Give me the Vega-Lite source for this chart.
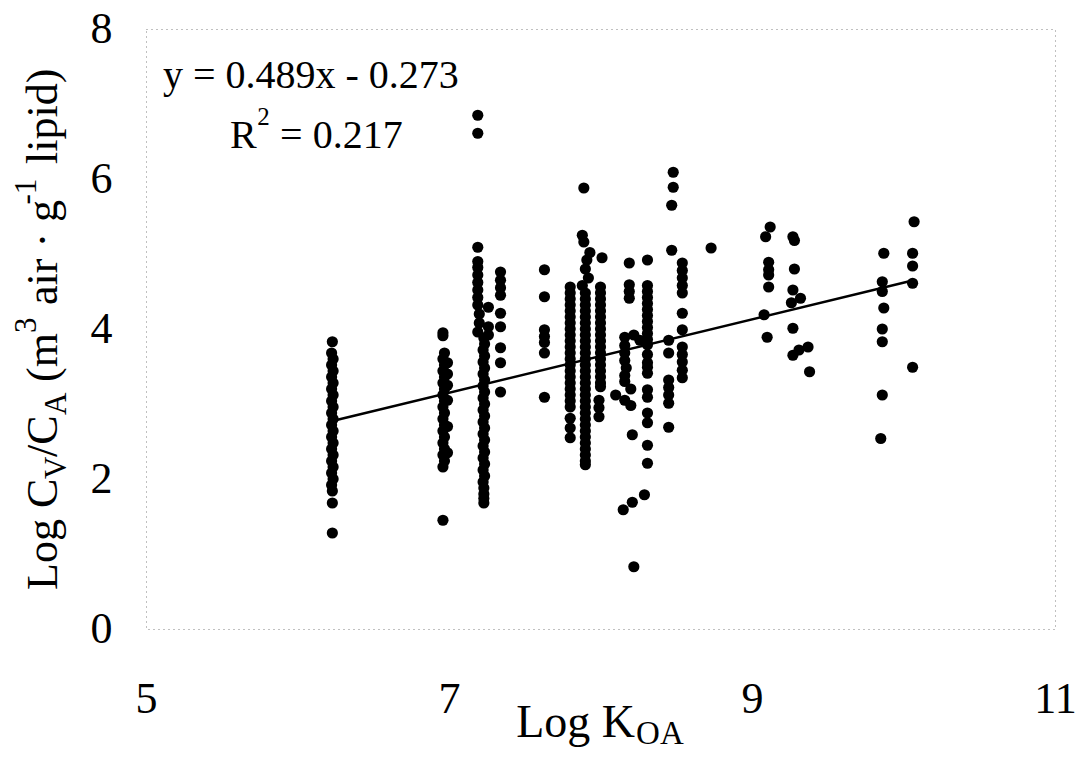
{
"$schema": "https://vega.github.io/schema/vega-lite/v6.json",
"width": 909, "height": 600,
"autosize": {"type": "none"},
"padding": {"left": 146, "top": 29, "right": 23, "bottom": 132},
"background": "white",
"config": {"font": "Liberation Serif", "view": {"stroke": "#808080", "strokeDash": [1, 4], "strokeWidth": 1}},
"datasets": {
"pts": [
{"k":6.23,"c":3.83},{"k":6.225,"c":3.68},{"k":6.235,"c":3.60},{"k":6.225,"c":3.52},{"k":6.235,"c":3.44},{"k":6.225,"c":3.36},{"k":6.235,"c":3.28},{"k":6.225,"c":3.20},{"k":6.235,"c":3.12},{"k":6.225,"c":3.04},{"k":6.235,"c":2.96},{"k":6.225,"c":2.88},{"k":6.235,"c":2.80},{"k":6.225,"c":2.72},{"k":6.235,"c":2.64},{"k":6.225,"c":2.56},{"k":6.235,"c":2.48},{"k":6.225,"c":2.40},{"k":6.235,"c":2.32},{"k":6.225,"c":2.24},{"k":6.235,"c":2.16},{"k":6.225,"c":2.08},{"k":6.235,"c":2.00},{"k":6.225,"c":1.92},{"k":6.23,"c":1.84},{"k":6.23,"c":1.68},{"k":6.23,"c":1.28},
{"k":6.96,"c":3.95},{"k":6.96,"c":3.91},{"k":6.97,"c":3.68},{"k":6.96,"c":3.60},{"k":6.97,"c":3.52},{"k":6.96,"c":3.44},{"k":6.97,"c":3.36},{"k":6.96,"c":3.28},{"k":6.97,"c":3.20},{"k":6.96,"c":3.12},{"k":6.97,"c":3.04},{"k":6.96,"c":2.96},{"k":6.97,"c":2.88},{"k":6.96,"c":2.80},{"k":6.97,"c":2.72},{"k":6.96,"c":2.64},{"k":6.97,"c":2.56},{"k":6.96,"c":2.48},{"k":6.97,"c":2.40},{"k":6.96,"c":2.32},{"k":6.97,"c":2.24},{"k":6.96,"c":2.16},{"k":6.99,"c":3.55},{"k":6.99,"c":3.40},{"k":6.99,"c":3.25},{"k":6.99,"c":3.05},{"k":6.99,"c":2.70},{"k":6.99,"c":2.35},{"k":6.96,"c":1.45},
{"k":7.19,"c":6.85},{"k":7.19,"c":6.61},{"k":7.19,"c":5.09},{"k":7.19,"c":4.90},{"k":7.19,"c":4.82},{"k":7.19,"c":4.72},{"k":7.19,"c":4.62},{"k":7.19,"c":4.52},{"k":7.19,"c":4.42},{"k":7.19,"c":4.32},{"k":7.20,"c":4.20},{"k":7.20,"c":4.08},{"k":7.19,"c":3.96},{"k":7.26,"c":4.29},{"k":7.26,"c":4.03},{"k":7.26,"c":3.92},
{"k":7.23,"c":3.88},{"k":7.235,"c":3.80},{"k":7.225,"c":3.72},{"k":7.235,"c":3.64},{"k":7.225,"c":3.56},{"k":7.235,"c":3.48},{"k":7.225,"c":3.40},{"k":7.235,"c":3.32},{"k":7.225,"c":3.24},{"k":7.235,"c":3.16},{"k":7.225,"c":3.08},{"k":7.235,"c":3.00},{"k":7.225,"c":2.92},{"k":7.235,"c":2.84},{"k":7.225,"c":2.76},{"k":7.235,"c":2.68},{"k":7.225,"c":2.60},{"k":7.235,"c":2.52},{"k":7.225,"c":2.44},{"k":7.235,"c":2.36},{"k":7.225,"c":2.28},{"k":7.235,"c":2.20},{"k":7.225,"c":2.12},{"k":7.235,"c":2.04},{"k":7.225,"c":1.96},{"k":7.23,"c":1.88},{"k":7.23,"c":1.80},{"k":7.23,"c":1.74},{"k":7.23,"c":1.68},
{"k":7.34,"c":4.76},{"k":7.34,"c":4.65},{"k":7.34,"c":4.55},{"k":7.34,"c":4.45},{"k":7.34,"c":4.21},{"k":7.34,"c":4.03},{"k":7.34,"c":3.75},{"k":7.34,"c":3.55},{"k":7.34,"c":3.16},
{"k":7.63,"c":4.79},{"k":7.63,"c":4.43},{"k":7.63,"c":3.99},{"k":7.63,"c":3.90},{"k":7.63,"c":3.82},{"k":7.63,"c":3.68},{"k":7.63,"c":3.09},
{"k":7.80,"c":4.56},{"k":7.80,"c":4.48},{"k":7.80,"c":4.40},{"k":7.80,"c":4.32},{"k":7.80,"c":4.24},{"k":7.80,"c":4.16},{"k":7.80,"c":4.08},{"k":7.80,"c":4.00},{"k":7.80,"c":3.92},{"k":7.80,"c":3.84},{"k":7.80,"c":3.76},{"k":7.80,"c":3.68},{"k":7.80,"c":3.60},{"k":7.80,"c":3.52},{"k":7.80,"c":3.44},{"k":7.80,"c":3.36},{"k":7.80,"c":3.28},{"k":7.80,"c":3.20},{"k":7.80,"c":3.12},{"k":7.80,"c":3.04},{"k":7.80,"c":2.96},{"k":7.80,"c":2.81},{"k":7.80,"c":2.68},{"k":7.80,"c":2.55},
{"k":7.89,"c":5.88},{"k":7.88,"c":5.25},{"k":7.89,"c":5.16},{"k":7.93,"c":5.02},{"k":7.91,"c":4.92},{"k":7.90,"c":4.80},{"k":7.92,"c":4.68},{"k":7.88,"c":4.58},
{"k":7.90,"c":4.48},{"k":7.90,"c":4.40},{"k":7.90,"c":4.32},{"k":7.90,"c":4.24},{"k":7.90,"c":4.16},{"k":7.90,"c":4.08},{"k":7.90,"c":4.00},{"k":7.90,"c":3.92},{"k":7.90,"c":3.84},{"k":7.90,"c":3.76},{"k":7.90,"c":3.68},{"k":7.90,"c":3.60},{"k":7.90,"c":3.52},{"k":7.90,"c":3.44},{"k":7.90,"c":3.36},{"k":7.90,"c":3.28},{"k":7.90,"c":3.20},{"k":7.90,"c":3.12},{"k":7.90,"c":3.04},{"k":7.90,"c":2.96},{"k":7.90,"c":2.88},{"k":7.90,"c":2.80},{"k":7.90,"c":2.72},{"k":7.90,"c":2.64},{"k":7.90,"c":2.56},{"k":7.90,"c":2.48},{"k":7.90,"c":2.40},{"k":7.90,"c":2.32},{"k":7.90,"c":2.24},{"k":7.90,"c":2.19},
{"k":8.01,"c":4.95},{"k":8.00,"c":4.56},{"k":8.00,"c":4.48},{"k":8.00,"c":4.40},{"k":8.00,"c":4.32},{"k":8.00,"c":4.24},{"k":8.00,"c":4.16},{"k":8.00,"c":4.08},{"k":8.00,"c":4.00},{"k":8.00,"c":3.92},{"k":8.00,"c":3.84},{"k":8.00,"c":3.76},{"k":8.00,"c":3.68},{"k":8.00,"c":3.60},{"k":8.00,"c":3.52},{"k":8.00,"c":3.44},{"k":8.00,"c":3.36},{"k":8.00,"c":3.28},{"k":8.00,"c":3.23},{"k":7.99,"c":3.05},{"k":7.99,"c":2.95},{"k":7.99,"c":2.83},
{"k":8.19,"c":4.88},{"k":8.19,"c":4.59},{"k":8.19,"c":4.50},{"k":8.19,"c":4.41},{"k":8.16,"c":3.89},{"k":8.22,"c":3.92},{"k":8.26,"c":3.85},{"k":8.16,"c":3.78},{"k":8.16,"c":3.68},{"k":8.16,"c":3.58},{"k":8.17,"c":3.48},{"k":8.16,"c":3.38},{"k":8.10,"c":3.12},{"k":8.16,"c":3.30},{"k":8.20,"c":3.20},{"k":8.16,"c":3.05},{"k":8.20,"c":2.98},{"k":8.21,"c":2.59},{"k":8.15,"c":1.59},{"k":8.21,"c":1.69},{"k":8.29,"c":1.79},{"k":8.22,"c":0.83},
{"k":8.31,"c":4.92},{"k":8.31,"c":4.58},{"k":8.31,"c":4.50},{"k":8.31,"c":4.42},{"k":8.31,"c":4.34},{"k":8.31,"c":4.26},{"k":8.31,"c":4.18},{"k":8.31,"c":4.10},{"k":8.31,"c":4.02},{"k":8.31,"c":3.94},{"k":8.31,"c":3.86},{"k":8.31,"c":3.79},{"k":8.31,"c":3.66},{"k":8.31,"c":3.55},{"k":8.31,"c":3.49},{"k":8.31,"c":3.41},{"k":8.31,"c":3.19},{"k":8.31,"c":3.09},{"k":8.31,"c":2.88},{"k":8.31,"c":2.75},{"k":8.31,"c":2.45},{"k":8.31,"c":2.21},
{"k":8.48,"c":6.09},{"k":8.48,"c":5.89},{"k":8.47,"c":5.65},{"k":8.47,"c":5.05},
{"k":8.45,"c":3.85},{"k":8.45,"c":3.68},{"k":8.45,"c":3.32},{"k":8.45,"c":3.22},{"k":8.45,"c":3.12},{"k":8.45,"c":3.01},{"k":8.45,"c":2.69},
{"k":8.54,"c":4.88},{"k":8.54,"c":4.78},{"k":8.54,"c":4.68},{"k":8.54,"c":4.58},{"k":8.54,"c":4.48},{"k":8.54,"c":4.21},{"k":8.54,"c":3.99},{"k":8.54,"c":3.76},{"k":8.54,"c":3.66},{"k":8.54,"c":3.56},{"k":8.54,"c":3.45},{"k":8.54,"c":3.35},
{"k":8.73,"c":5.08},
{"k":9.12,"c":5.36},{"k":9.09,"c":5.23},{"k":9.11,"c":4.89},{"k":9.11,"c":4.79},{"k":9.11,"c":4.72},{"k":9.11,"c":4.56},{"k":9.08,"c":4.19},{"k":9.10,"c":3.89},
{"k":9.27,"c":5.23},{"k":9.28,"c":5.18},{"k":9.28,"c":4.80},{"k":9.27,"c":4.52},{"k":9.32,"c":4.41},{"k":9.26,"c":4.35},{"k":9.27,"c":4.01},{"k":9.37,"c":3.76},{"k":9.31,"c":3.72},{"k":9.27,"c":3.65},{"k":9.38,"c":3.43},
{"k":9.87,"c":5.01},{"k":9.86,"c":4.63},{"k":9.86,"c":4.50},{"k":9.87,"c":4.28},{"k":9.86,"c":4.00},{"k":9.86,"c":3.83},{"k":9.86,"c":3.12},{"k":9.85,"c":2.54},
{"k":10.07,"c":5.43},{"k":10.06,"c":5.01},{"k":10.06,"c":4.84},{"k":10.06,"c":4.61},{"k":10.06,"c":3.49}
],
"fit": [{"k": 6.23, "c": 2.773}, {"k": 10.06, "c": 4.646}]
},
"layer": [
{"data": {"name": "pts"},
 "mark": {"type": "circle", "size": 125, "color": "black", "opacity": 1},
 "encoding": {
  "x": {"field": "k", "type": "quantitative", "scale": {"domain": [5, 11], "nice": false, "zero": false},
        "axis": {"title": null, "values": [5, 7, 9, 11], "format": "d", "domain": false, "ticks": false, "tickSize": 0, "grid": false, "labelFontSize": 44, "labelColor": "black", "labelPadding": 48, "labelFlush": false, "labelOverlap": false, "labelFont": "Liberation Serif"}},
  "y": {"field": "c", "type": "quantitative", "scale": {"domain": [0, 8], "nice": false, "zero": false},
        "axis": {"title": null, "values": [0, 2, 4, 6, 8], "format": "d", "domain": false, "ticks": false, "tickSize": 0, "grid": false, "labelFontSize": 44, "labelColor": "black", "labelPadding": 34, "labelOverlap": false, "labelFont": "Liberation Serif"}}
 }},
{"data": {"name": "fit"},
 "mark": {"type": "line", "color": "black", "strokeWidth": 2.5},
 "encoding": {"x": {"field": "k", "type": "quantitative"}, "y": {"field": "c", "type": "quantitative"}}},
{"data": {"values": [{"t": "y = 0.489x - 0.273"}]},
 "mark": {"type": "text", "fontSize": 40, "align": "left", "baseline": "alphabetic", "color": "black"},
 "encoding": {"text": {"field": "t"}, "x": {"datum": 5.112}, "y": {"datum": 7.213}}},
{"data": {"values": [{"t": "R"}]},
 "mark": {"type": "text", "fontSize": 40, "align": "left", "baseline": "alphabetic", "color": "black"},
 "encoding": {"text": {"field": "t"}, "x": {"datum": 5.554}, "y": {"datum": 6.413}}},
{"data": {"values": [{"t": "2"}]},
 "mark": {"type": "text", "fontSize": 25, "align": "left", "baseline": "alphabetic", "color": "black"},
 "encoding": {"text": {"field": "t"}, "x": {"datum": 5.735}, "y": {"datum": 6.72}}},
{"data": {"values": [{"t": "= 0.217"}]},
 "mark": {"type": "text", "fontSize": 40, "align": "left", "baseline": "alphabetic", "color": "black"},
 "encoding": {"text": {"field": "t"}, "x": {"datum": 5.885}, "y": {"datum": 6.413}}},
{"data": {"values": [{"t": "Log K"}]},
 "mark": {"type": "text", "fontSize": 46, "align": "right", "baseline": "alphabetic", "color": "black"},
 "encoding": {"text": {"field": "t"}, "x": {"datum": 8.228}, "y": {"datum": -1.44}}},
{"data": {"values": [{"t": "OA"}]},
 "mark": {"type": "text", "fontSize": 33, "align": "left", "baseline": "alphabetic", "color": "black"},
 "encoding": {"text": {"field": "t"}, "x": {"datum": 8.235}, "y": {"datum": -1.533}}},
{"data": {"values": [{"t": "Log C"}]},
 "mark": {"type": "text", "fontSize": 44, "angle": 270, "align": "left", "baseline": "alphabetic", "color": "black"},
 "encoding": {"text": {"field": "t"}, "x": {"datum": 4.4125}, "y": {"datum": 0.52}}},
{"data": {"values": [{"t": "V"}]},
 "mark": {"type": "text", "fontSize": 31, "angle": 270, "align": "left", "baseline": "alphabetic", "color": "black"},
 "encoding": {"text": {"field": "t"}, "x": {"datum": 4.472}, "y": {"datum": 2.0}}},
{"data": {"values": [{"t": "/C"}]},
 "mark": {"type": "text", "fontSize": 44, "angle": 270, "align": "left", "baseline": "alphabetic", "color": "black"},
 "encoding": {"text": {"field": "t"}, "x": {"datum": 4.4125}, "y": {"datum": 2.293}}},
{"data": {"values": [{"t": "A"}]},
 "mark": {"type": "text", "fontSize": 31, "angle": 270, "align": "left", "baseline": "alphabetic", "color": "black"},
 "encoding": {"text": {"field": "t"}, "x": {"datum": 4.472}, "y": {"datum": 2.853}}},
{"data": {"values": [{"t": "(m"}]},
 "mark": {"type": "text", "fontSize": 44, "angle": 270, "align": "left", "baseline": "alphabetic", "color": "black"},
 "encoding": {"text": {"field": "t"}, "x": {"datum": 4.4125}, "y": {"datum": 3.293}}},
{"data": {"values": [{"t": "3"}]},
 "mark": {"type": "text", "fontSize": 31, "angle": 270, "align": "left", "baseline": "alphabetic", "color": "black"},
 "encoding": {"text": {"field": "t"}, "x": {"datum": 4.274}, "y": {"datum": 3.947}}},
{"data": {"values": [{"t": "air · g"}]},
 "mark": {"type": "text", "fontSize": 44, "angle": 270, "align": "left", "baseline": "alphabetic", "color": "black"},
 "encoding": {"text": {"field": "t"}, "x": {"datum": 4.4125}, "y": {"datum": 4.32}}},
{"data": {"values": [{"t": "-1"}]},
 "mark": {"type": "text", "fontSize": 31, "angle": 270, "align": "left", "baseline": "alphabetic", "color": "black"},
 "encoding": {"text": {"field": "t"}, "x": {"datum": 4.274}, "y": {"datum": 5.66}}},
{"data": {"values": [{"t": "lipid)"}]},
 "mark": {"type": "text", "fontSize": 44, "angle": 270, "align": "left", "baseline": "alphabetic", "color": "black"},
 "encoding": {"text": {"field": "t"}, "x": {"datum": 4.4125}, "y": {"datum": 6.2}}}
]
}
